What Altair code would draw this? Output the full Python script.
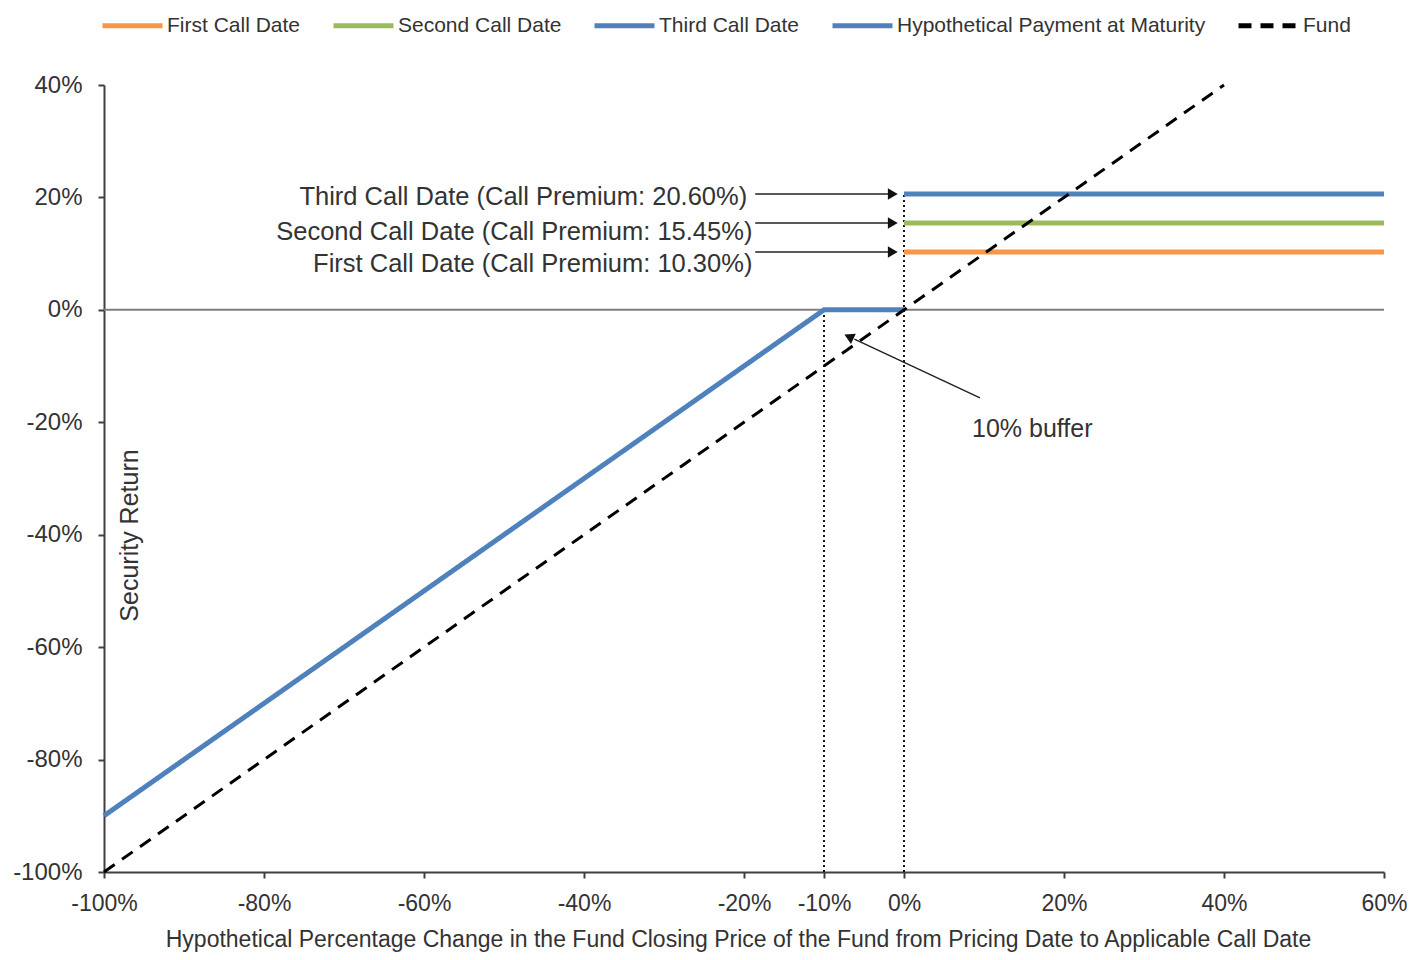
import altair as alt
import pandas as pd

FONT = "Liberation Sans"

# ---- data ----
series_names = ["First Call Date", "Second Call Date", "Third Call Date",
                "Hypothetical Payment at Maturity", "Fund"]
series_colors = ["#F79646", "#9BBB59", "#4F81BD", "#4F81BD", "#000000"]
series_dashes = [[1, 0], [1, 0], [1, 0], [1, 0], [13, 9]]

first_x = [0, 60]
first_y = [10.30, 10.30]
second_x = [0, 60]
second_y = [15.45, 15.45]
third_x = [0, 60]
third_y = [20.60, 20.60]
maturity_x = [-100, -10, 0]
maturity_y = [-90, 0, 0]
fund_x = [-100, 40]
fund_y = [-100, 40]

x_ticks = [-100, -80, -60, -40, -20, -10, 0, 20, 40, 60]
y_ticks = [-100, -80, -60, -40, -20, 0, 20, 40]

# dotted guide lines (x, from y, to y)
guide_x = [-10, 0]
guide_y1 = [-100, -100]
guide_y2 = [0, 20.60]

# call premium annotations
ann_text = ["Third Call Date (Call Premium: 20.60%)",
            "Second Call Date (Call Premium: 15.45%)",
            "First Call Date (Call Premium: 10.30%)"]
ann_text_x = [-19.6, -18.95, -18.95]
ann_text_y = [20.1, 13.9, 8.2]
arrow_x1 = [-18.6, -18.6, -18.6]
arrow_x2 = [-1.8, -1.8, -1.8]
arrow_y = [20.60, 15.45, 10.30]
arrow_head_x = [-1.4, -1.4, -1.4]

# buffer annotation
buffer_text = ["10% buffer"]
buffer_text_x = [8.5]
buffer_text_y = [-21.2]
buffer_tail = [9.5, -15.66]
buffer_end = [-6.2, -5.2]
buffer_head = [-6.7, -4.9]

x_title = ("Hypothetical Percentage Change in the Fund Closing Price of the Fund "
           "from Pricing Date to Applicable Call Date")

# ---- frames ----
rows = []
for name, xs_, ys_ in [("First Call Date", first_x, first_y),
                       ("Second Call Date", second_x, second_y),
                       ("Third Call Date", third_x, third_y),
                       ("Hypothetical Payment at Maturity", maturity_x, maturity_y),
                       ("Fund", fund_x, fund_y)]:
    for i, (a, b) in enumerate(zip(xs_, ys_)):
        rows.append({"series": name, "x": a, "y": b, "order": i})
lines_df = pd.DataFrame(rows)

xs = alt.Scale(domain=[-100, 60], nice=False, zero=False)
ys = alt.Scale(domain=[-100, 40], nice=False, zero=False)

xaxis = alt.Axis(values=x_ticks, labelExpr="datum.value + '%'", title=x_title,
                 labelFontSize=23, labelPadding=14, tickSize=6, labelFlush=False,
                 labelOverlap=False,
                 titleFontSize=23, titleFontWeight="normal",
                 titleX=634, titleY=67, titleBaseline="middle", titleAlign="center")
yaxis = alt.Axis(values=y_ticks, labelExpr="datum.value + '%'", title="Security Return",
                 labelFontSize=24, labelPadding=16, tickSize=6, labelFlush=False,
                 labelOverlap=False,
                 titleFontSize=25, titleFontWeight="normal",
                 titleX=25, titleY=450, titleAngle=270, titleBaseline="middle",
                 titleAlign="center")

X = lambda f="x": alt.X(f"{f}:Q", scale=xs, axis=xaxis)
Y = lambda f="y": alt.Y(f"{f}:Q", scale=ys, axis=yaxis)

color = alt.Color("series:N", scale=alt.Scale(domain=series_names, range=series_colors),
                  legend=alt.Legend(title=None, orient="none", legendX=-4, legendY=-92,
                                    direction="horizontal", columns=5,
                                    symbolType="stroke", symbolSize=3600,
                                    symbolStrokeWidth=5, labelFontSize=21,
                                    labelFont=FONT, labelColor="#333333",
                                    labelLimit=0,
                                    labelOffset=2, columnPadding=22))
dash = alt.StrokeDash("series:N",
                      scale=alt.Scale(domain=series_names, range=series_dashes),
                      legend=None)

zero_df = pd.DataFrame({"x": [-100], "x2": [60], "y": [0]})
zero_line = alt.Chart(zero_df).mark_rule(color="#7F7F7F", strokeWidth=2).encode(
    x=X(), x2="x2:Q", y=Y())

guide_df = pd.DataFrame({"x": guide_x, "y": guide_y1, "y2": guide_y2})
guides = alt.Chart(guide_df).mark_rule(color="#111111", strokeWidth=2,
                                       strokeDash=[2, 3]).encode(
    x=X(), y=Y(), y2="y2:Q")

main_lines = alt.Chart(lines_df[lines_df.series != "Fund"]).mark_line(
    strokeWidth=5, strokeCap="butt").encode(
    x=X(), y=Y(), color=color, strokeDash=dash, order="order:Q")

fund_line = alt.Chart(lines_df[lines_df.series == "Fund"]).mark_line(
    strokeWidth=3).encode(
    x=X(), y=Y(), color=color, strokeDash=dash, order="order:Q")

ann_df = pd.DataFrame({"text": ann_text, "x": ann_text_x, "y": ann_text_y})
ann = alt.Chart(ann_df).mark_text(align="right", baseline="middle", fontSize=25.5,
                                  font=FONT, color="#333333").encode(
    x=X(), y=Y(), text="text:N")

arrow_df = pd.DataFrame({"x": arrow_x1, "x2": arrow_x2, "y": arrow_y, "hx": arrow_head_x})
arrows = alt.Chart(arrow_df).mark_rule(color="#222222", strokeWidth=1.5).encode(
    x=X(), x2="x2:Q", y=Y())
heads = alt.Chart(arrow_df).mark_point(shape="triangle-right", filled=True, size=130,
                                       color="#111111", opacity=1).encode(
    x=X("hx"), y=Y())

buf_df = pd.DataFrame({"x": [buffer_tail[0]], "y": [buffer_tail[1]],
                       "x2": [buffer_end[0]], "y2": [buffer_end[1]],
                       "hx": [buffer_head[0]], "hy": [buffer_head[1]]})
buf_arrow = alt.Chart(buf_df).mark_rule(color="#222222", strokeWidth=1.5).encode(
    x=X(), y=Y(), x2="x2:Q", y2="y2:Q")
buf_head = alt.Chart(buf_df).mark_point(shape="triangle", filled=True, size=130,
                                        angle=295, color="#111111", opacity=1).encode(
    x=X("hx"), y=Y("hy"))
buf_text_df = pd.DataFrame({"text": buffer_text, "x": buffer_text_x, "y": buffer_text_y})
buf_text = alt.Chart(buf_text_df).mark_text(align="left", baseline="middle",
                                            fontSize=25, font=FONT,
                                            color="#333333").encode(
    x=X(), y=Y(), text="text:N")

chart = alt.layer(zero_line, guides, main_lines, fund_line, ann, arrows, heads,
                  buf_arrow, buf_head, buf_text).properties(
    width=1280, height=787,
    autosize=alt.AutoSizeParams(type="none"),
    padding={"left": 96, "top": 77, "right": 24, "bottom": 80},
).configure_view(stroke=None).configure_axis(
    grid=False, domainColor="#404040", domainWidth=2, tickColor="#404040",
    tickWidth=2, labelFont=FONT, titleFont=FONT, labelColor="#333333",
    titleColor="#333333"
)

chart.save("out.html", embed_options={"renderer": "svg", "actions": False})
